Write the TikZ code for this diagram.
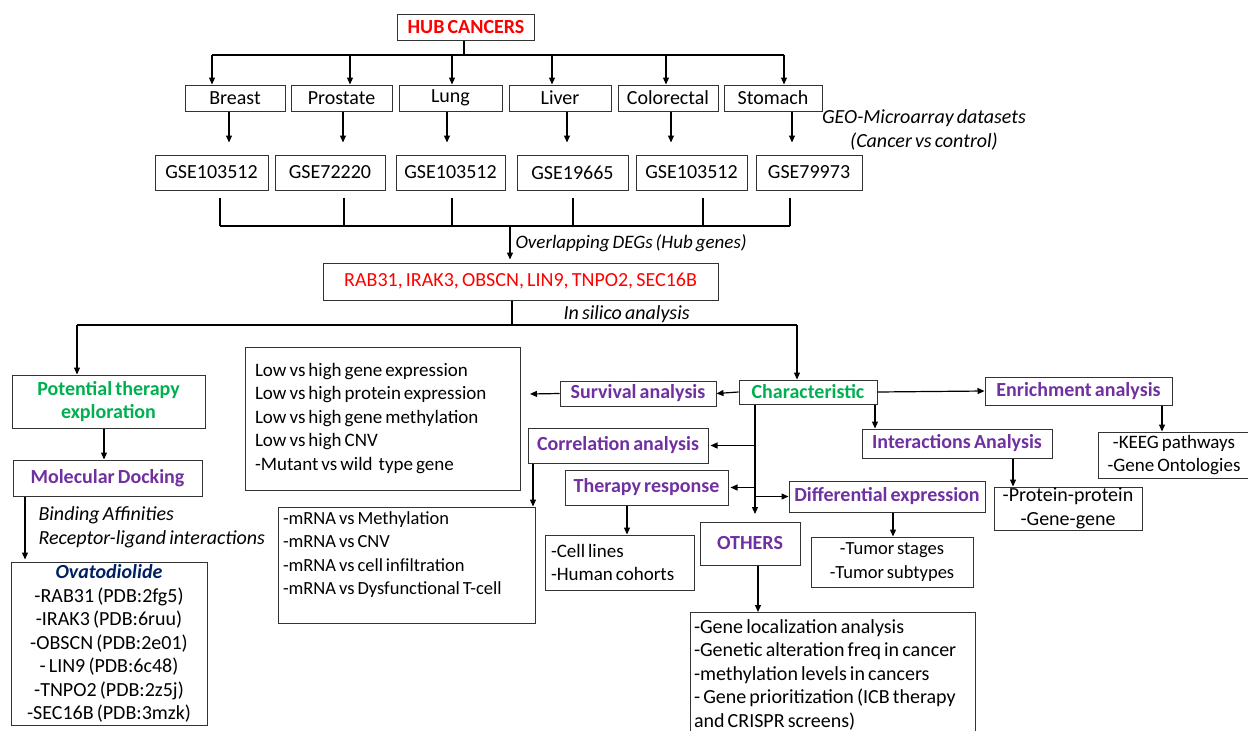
\documentclass[tikz,border=0pt]{standalone}
\usepackage{fontspec}
\setmainfont{Carlito}[WordSpace=0.7]
\usetikzlibrary{arrows.meta}
\definecolor{hubred}{RGB}{255,0,0}
\definecolor{stepgreen}{RGB}{0,176,80}
\definecolor{anpurple}{RGB}{112,48,160}
\definecolor{drugblue}{RGB}{0,32,96}
\tikzset{box/.style={draw=black!80,line width=1pt,rectangle,inner sep=0pt,font=\fontsize{20}{23.5}\selectfont},
  fs/.style={font=\fontsize{#1}{23.5}\selectfont},
  head/.style={box,font=\fontsize{20}{23}\selectfont\bfseries},
  list/.style={box,align=flush left,inner xsep=10pt,inner ysep=2pt},
  arr/.style={line width=1.2pt,-{Triangle[length=7pt,width=6pt]}},
  note/.style={anchor=west,font=\fontsize{20}{23.5}\selectfont\itshape}}

\begin{document}
\begin{tikzpicture}[x=1pt,y=-1pt]
        \useasboundingbox (0,0) rectangle (1248,731);
        \node[head,text=hubred,minimum width=137,minimum height=26] (hub) at (466,27) {HUB CANCERS};
        \foreach \n/\x/\w/\t in {breast/235/100/Breast,prostate/341.5/101/Prostate,lung/450.5/103/Lung,liver/560/102/Liver,colorectal/668/100/Colorectal,stomach/773/98/Stomach}
            \node[box,minimum width=\w,minimum height=26] (\n) at (\x,98) {\t};
        \foreach \n/\x/\w/\t in {gseA/211.5/113/GSE103512,gseB/330/110/GSE72220,gseC/450.5/109/GSE103512,gseD/572.5/111/GSE19665,gseE/691.5/111/GSE103512,gseF/809/106/GSE79973}
            \node[box,minimum width=\w,minimum height=35] (\n) at (\x,172.5) {\t};
        \node[align=center,font=\fontsize{20}{23.5}\selectfont\itshape] (geo) at (924,130) {GEO-Microarray datasets\\(Cancer vs control)};
        \coordinate (tl) at (212,55);
        \coordinate (tr) at (784,55);
        \draw[line width=1.2pt] (hub.south -| 464,0) -- (464,55);
        \draw[line width=1.2pt] (tl) -- (tr);
        \foreach \n/\x in {breast/212,prostate/350,lung/452,liver/552,colorectal/666,stomach/784}
            \draw[arr] (\x,55) -- (\n.north -| \x,0);
        \foreach \n/\g/\x in {breast/gseA/229,prostate/gseB/343,lung/gseC/447,liver/gseD/567,colorectal/gseE/671,stomach/gseF/792}
            \draw[arr,shorten >=12pt] (\n.south -| \x,0) -- (\g.north -| \x,0);
        \coordinate (jl) at (220,226);
        \coordinate (jr) at (790,226);
        \coordinate (join) at (510,226);
        \foreach \g/\x in {gseA/220,gseB/344,gseC/452,gseD/573,gseE/703,gseF/790}
            \draw[line width=1.2pt] (\g.south -| \x,0) ++(0,7) -- (\x,226);
        \draw[line width=1.2pt] (jl) -- (jr);
        \node[box,text=hubred,minimum width=395,minimum height=37] (genes) at (520.5,281.5) {RAB31, IRAK3, OBSCN, LIN9, TNPO2, SEC16B};
        \draw[arr,shorten >=3pt] (join) -- (genes.north -| join);
        \node[note,font=\fontsize{19}{23.5}\selectfont\itshape] (overlap) at (512,243) {Overlapping DEGs (Hub genes)};
        \coordinate (fork) at (512,325);
        \coordinate (sl) at (77,325);
        \coordinate (sr) at (797,325);
        \draw[line width=1.2pt] (genes.south -| fork) -- (fork);
        \draw[line width=1.2pt] (sl) -- (sr);
        \node[note] (silico) at (560,314) {In silico analysis};
        \node[head,text=stepgreen,align=center,minimum width=193,minimum height=53] (pot) at (108.5,401.5) {Potential therapy\\exploration};
        \node[head,text=anpurple,minimum width=189,minimum height=36] (dock) at (107.5,478) {Molecular Docking};
        \node[box,align=center,minimum width=196,minimum height=163] (ovat) at (109,643.5) {{\bfseries\itshape\color{drugblue}Ovatodiolide}\\-RAB31 (PDB:2fg5)\\-IRAK3 (PDB:6ruu)\\-OBSCN (PDB:2e01)\\- LIN9 (PDB:6c48)\\-TNPO2 (PDB:2z5j)\\-SEC16B (PDB:3mzk)};
        \draw[arr] (sl) -- (pot.north -| sl);
        \draw[arr] (pot.south -| 104,0) -- (dock.north -| 104,0);
        \draw[arr,shorten >=2pt] (dock.south -| 25,0) -- (ovat.north -| 25,0);
        \node[note] (bind) at (35,515) {Binding Affinities};
        \node[note] (recep) at (35,539) {Receptor-ligand interactions};
        \node[list,fs=19,text width=255,minimum width=275,minimum height=143] (lowhigh) at (382.5,418.5) {Low vs high gene expression\\Low vs high protein expression\\Low vs high gene methylation\\Low vs high CNV\\-Mutant vs wild~ type gene};
        \node[head,text=stepgreen,minimum width=138,minimum height=24] (char) at (808,392) {Characteristic};
        \node[head,text=anpurple,minimum width=156,minimum height=25] (surv) at (638,393.5) {Survival analysis};
        \node[head,text=anpurple,minimum width=187,minimum height=28] (enrich) at (1078.5,391) {Enrichment analysis};
        \node[box,fs=19,align=center,minimum width=152,minimum height=46] (keeg) at (1174,455) {-KEEG pathways\\-Gene Ontologies};
        \node[head,text=anpurple,minimum width=190,minimum height=29] (inter) at (957,443.5) {Interactions Analysis};
        \node[box,align=center,minimum width=148,minimum height=43] (prot) at (1068,508.5) {-Protein-protein\\-Gene-gene};
        \node[head,text=anpurple,minimum width=180,minimum height=35] (corr) at (618,445.5) {Correlation analysis};
        \node[head,text=anpurple,minimum width=163,minimum height=35] (ther) at (646.5,487.5) {Therapy response};
        \node[head,text=anpurple,minimum width=196,minimum height=31] (diff) at (887,496.5) {Differential expression};
        \node[head,text=anpurple,minimum width=100,minimum height=43] (others) at (750,543.5) {OTHERS};
        \node[list,fs=18.5,inner xsep=5pt,text width=247,minimum width=257,minimum height=116] (mrna) at (406.5,565) {-mRNA vs Methylation\\-mRNA vs CNV\\-mRNA vs cell infiltration\\-mRNA vs Dysfunctional T-cell\\\mbox{}};
        \node[list,fs=19,inner xsep=6pt,text width=137,minimum width=149,minimum height=55] (cells) at (619.5,562.5) {-Cell lines\\-Human cohorts};
        \node[box,fs=18.5,align=center,minimum width=162,minimum height=50] (tumor) at (892,562) {-Tumor stages\\-Tumor subtypes};
        \node[list,anchor=north,inner xsep=4pt,inner ysep=7pt,text width=277,minimum width=285] (gene) at (832.5,612) {-Gene localization analysis\\-Genetic alteration freq in cancer\\-methylation levels in cancers\\- Gene prioritization (ICB therapy\\and CRISPR screens)\\\mbox{}};
        \coordinate (survtip) at (530,394);
        \coordinate (tb) at (755,514);
        \draw[arr] (sr) -- (char.north -| sr);
        \draw[arr] (char.west) -- (surv.east);
        \draw[arr] (surv.west) -- (survtip);
        \draw[arr] (char.east) -- (enrich.west);
        \draw[arr] (enrich.south -| 1162,0) -- (keeg.north -| 1162,0);
        \draw[arr] (char.south -| 875,0) -- (inter.north -| 875,0);
        \draw[arr] (inter.south -| 1013,0) -- (prot.north -| 1013,0);
        \draw[arr] (char.south -| tb) -- (tb);
        \draw[arr,shorten >=2pt] (corr.east -| tb) -- (corr.east);
        \draw[arr,shorten >=2pt] (ther.east -| tb) -- (ther.east);
        \draw[arr] (diff.west -| tb) -- (diff.west);
        \draw[arr] (corr.south -| 533,0) -- (mrna.north -| 533,0);
        \draw[arr] (ther.south -| 627,0) -- (cells.north -| 627,0);
        \draw[arr] (diff.south -| 893,0) -- (tumor.north -| 893,0);
        \draw[arr] (others.south -| 758,0) -- (gene.north -| 758,0);
\end{tikzpicture}
\end{document}
